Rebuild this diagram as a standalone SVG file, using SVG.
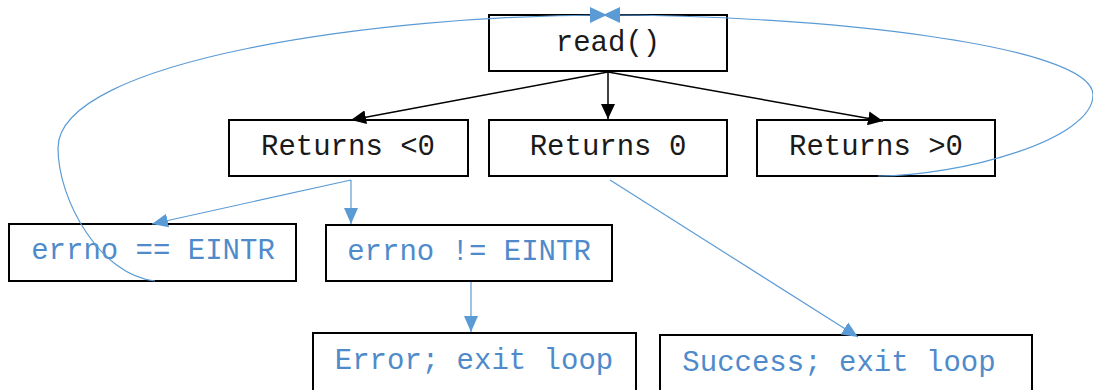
<svg xmlns="http://www.w3.org/2000/svg" width="1093" height="390" viewBox="0 0 1093 390">
<style>
.box{fill:#fff;stroke:#000;stroke-width:2}
.t{font-family:"Courier New","Liberation Mono",monospace;font-size:29px;text-anchor:middle;fill:#1a1a1a}
.tb{fill:#4F8BCB}
.bl{fill:none;stroke:#000;stroke-width:1.5}
.blu{fill:none;stroke:#5B9BD5;stroke-width:1.2}
</style>
<defs>
<marker id="ab" markerUnits="userSpaceOnUse" markerWidth="16" markerHeight="14" refX="15" refY="7" orient="auto"><path d="M0,0 L15,7 L0,14 z" fill="#000"/></marker>
<marker id="au" markerUnits="userSpaceOnUse" markerWidth="16" markerHeight="16" refX="16" refY="8" orient="auto"><path d="M0,1 L16,8 L0,15 z" fill="#5B9BD5"/></marker>
<marker id="aut" markerUnits="userSpaceOnUse" markerWidth="18" markerHeight="18" refX="17" refY="9" orient="auto"><path d="M0,1 L17,9 L0,17 z" fill="#5B9BD5"/></marker>
</defs>
<rect width="1093" height="390" fill="#fff"/>
<g id="n_read"><rect class="box" x="489" y="15" width="238" height="56"/><text class="t" x="608" y="51">read()</text></g>
<g id="n_lt0"><rect class="box" x="229" y="120" width="239" height="56"/><text class="t" x="348" y="155">Returns &lt;0</text></g>
<g id="n_eq0"><rect class="box" x="489" y="120" width="238" height="56"/><text class="t" x="608" y="155">Returns 0</text></g>
<g id="n_gt0"><rect class="box" x="757" y="120" width="238" height="56"/><text class="t" x="876" y="155">Returns &gt;0</text></g>
<g id="n_eintr"><rect class="box" x="9" y="224" width="287" height="57"/><text class="t tb" x="153" y="259">errno == EINTR</text></g>
<g id="n_neintr"><rect class="box" x="326" y="225" width="286" height="56"/><text class="t tb" x="469" y="260">errno != EINTR</text></g>
<g id="n_err"><rect class="box" x="313" y="333" width="323" height="60"/><text class="t tb" x="474" y="369">Error; exit loop</text></g>
<g id="n_succ"><rect class="box" x="660" y="335" width="372" height="60"/><text class="t tb" x="839" y="371">Success; exit loop</text></g>
<g id="connectors">
<path class="bl" d="M608,72 L351,120" marker-end="url(#ab)"/>
<path class="bl" d="M608,72 L608,119" marker-end="url(#ab)"/>
<path class="bl" d="M608,72 L883,121" marker-end="url(#ab)"/>
<path class="blu" d="M351,180 L152,224" marker-end="url(#au)"/>
<path class="blu" d="M351,180 L351,224" marker-end="url(#au)"/>
<path class="blu" d="M471,282 L471,332" marker-end="url(#au)"/>
<path class="blu" d="M610,180 L858,337" marker-end="url(#au)"/>
<path class="blu" d="M155,281 C100,275 58,200 58,148 C58,60 380,15 607,15" marker-end="url(#aut)"/>
<path class="blu" d="M878,176 C960,176 1093,140 1093,95 C1093,45 820,15 603,15" marker-end="url(#aut)"/>
</g>
</svg>
